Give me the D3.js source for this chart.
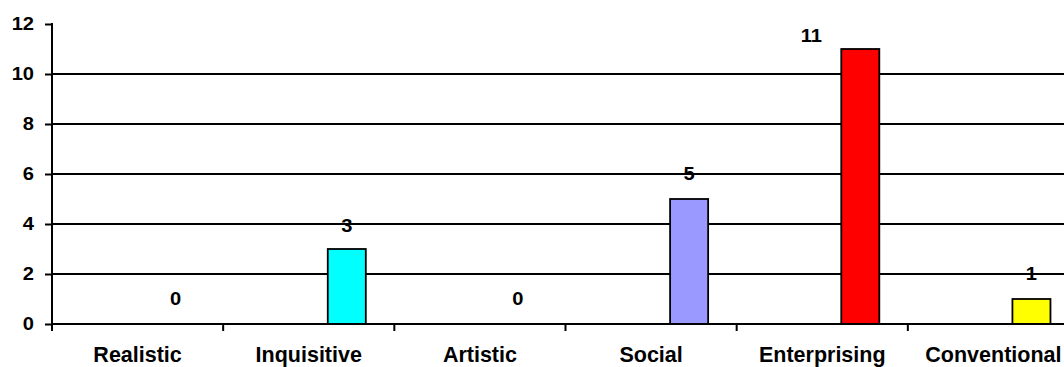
<!DOCTYPE html>
<html>
<head>
<meta charset="utf-8">
<title>Holland codes</title>
<script src="https://d3js.org/d3.v7.min.js"></script>
<style>
  body { margin: 0; padding: 0; background: #fff; }
  svg { display: block; }
  text { font-family: Arial, "Liberation Sans", sans-serif; font-weight: bold; fill: #000; }
</style>
</head>
<body>
<svg width="1064" height="367"></svg>
<script>
// data
var categories = ['Realistic', 'Inquisitive', 'Artistic', 'Social', 'Enterprising', 'Conventional'];
var counts = [0, 3, 0, 5, 11, 1];
var barColors = ['#993366', '#00ffff', '#ffffcc', '#9999ff', '#ff0000', '#ffff00'];
var yTicks = [0, 2, 4, 6, 8, 10, 12];

// label nudges (px), the "11" label was dragged left in the original
var labelNudge = [[0, 0], [0, 2], [0, 0], [0, 0], [-49, 12], [0, 0]];

var svg = d3.select('svg');
var margin = { left: 52, top: 24, bottom: 43 };
var plotRight = 1079;
var height = +svg.attr('height');

var rows = categories.map(function(c, i) {
    return { cat: c, value: counts[i], color: barColors[i], nudge: labelNudge[i] };
});

var x = d3.scaleBand()
    .domain(categories)
    .range([margin.left, plotRight]);
// the bar sits in the third slot of an Excel-style cluster (gap width 150%)
var slot = d3.scaleBand()
    .domain(['s1', 's2', 's3'])
    .range([0, x.bandwidth()])
    .paddingInner(0)
    .paddingOuter(0.75);
var y = d3.scaleLinear()
    .domain([0, 12])
    .range([height - margin.bottom, margin.top]);

var numStretch = 1.15;
var numSize = 17.5;

// gridlines
svg.append('g')
    .selectAll('line')
    .data(yTicks.filter(function(d) { return d > 0 && d < 12; }))
    .enter().append('line')
    .attr('x1', margin.left)
    .attr('x2', plotRight)
    .attr('y1', function(d) { return y(d); })
    .attr('y2', function(d) { return y(d); })
    .attr('stroke', '#000')
    .attr('stroke-width', 2);

// bars
svg.append('g')
    .selectAll('rect')
    .data(rows.filter(function(d) { return d.value > 0; }))
    .enter().append('rect')
    .attr('x', function(d) { return x(d.cat) + slot('s3'); })
    .attr('y', function(d) { return y(d.value); })
    .attr('width', slot.bandwidth())
    .attr('height', function(d) { return y(0) - y(d.value); })
    .attr('fill', function(d) { return d.color; })
    .attr('stroke', '#000')
    .attr('stroke-width', 1.8);

// y axis
var yAxis = svg.append('g')
    .attr('transform', 'translate(' + margin.left + ',0)')
    .call(d3.axisLeft(y).tickValues(yTicks).tickSize(7).tickPadding(11).tickSizeOuter(0));
yAxis.select('.domain').remove();
yAxis.selectAll('.tick line').attr('stroke', '#000').attr('stroke-width', 2);
yAxis.selectAll('.tick text')
    .attr('font-size', numSize)
    .attr('font-family', null)
    .attr('transform', function() {
        var tx = +d3.select(this).attr('x');
        return 'translate(' + tx + ',0) scale(' + numStretch + ',1) translate(' + (-tx) + ',0)';
    });
svg.append('line')
    .attr('x1', margin.left).attr('x2', margin.left)
    .attr('y1', y(12) - 1).attr('y2', y(0) + 7)
    .attr('stroke', '#000').attr('stroke-width', 2);

// x axis
var xAxis = svg.append('g')
    .attr('transform', 'translate(0,' + y(0) + ')');
xAxis.append('line')
    .attr('x1', margin.left).attr('x2', plotRight)
    .attr('stroke', '#000').attr('stroke-width', 2);
xAxis.selectAll('.xtick')
    .data(categories.slice(1))
    .enter().append('line')
    .attr('class', 'xtick')
    .attr('x1', function(d) { return x(d); })
    .attr('x2', function(d) { return x(d); })
    .attr('y1', 0).attr('y2', 7)
    .attr('stroke', '#000').attr('stroke-width', 2);
xAxis.selectAll('.xlabel')
    .data(categories)
    .enter().append('text')
    .attr('class', 'xlabel')
    .attr('x', function(d) { return x(d) + x.bandwidth() / 2; })
    .attr('y', 38)
    .attr('text-anchor', 'middle')
    .attr('font-size', 21.5)
    .text(function(d) { return d; });

// data labels
svg.append('g')
    .selectAll('text')
    .data(rows)
    .enter().append('text')
    .attr('text-anchor', 'middle')
    .attr('font-size', numSize)
    .attr('transform', function(d) {
        var cx = x(d.cat) + slot('s3') + slot.bandwidth() / 2 + d.nudge[0];
        var cy = y(d.value) - 19 + d.nudge[1];
        return 'translate(' + cx + ',' + cy + ') scale(' + numStretch + ',1)';
    })
    .text(function(d) { return d.value; });
</script>
</body>
</html>
